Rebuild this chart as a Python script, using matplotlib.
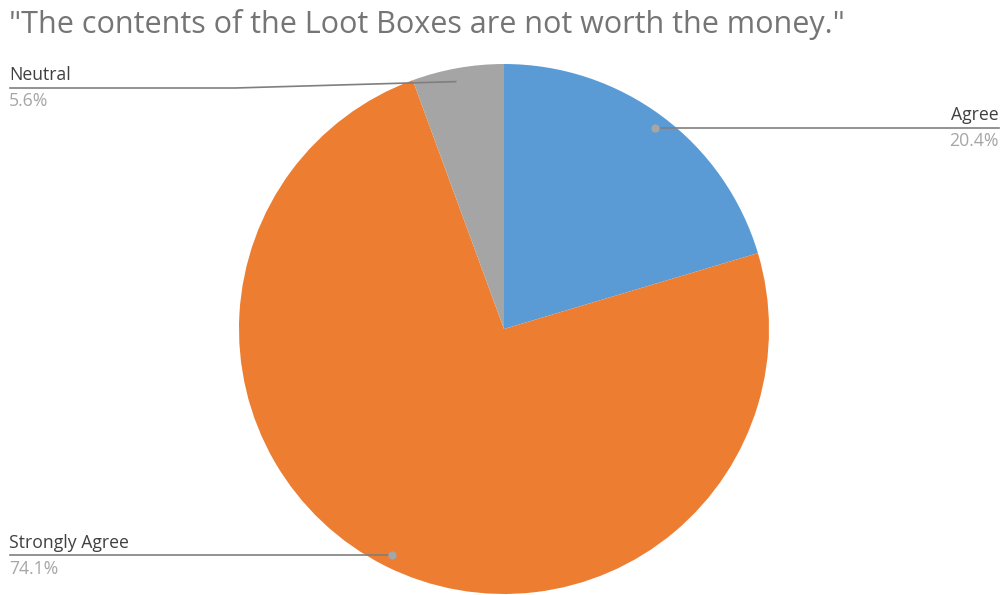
import matplotlib
matplotlib.use("Agg")
from matplotlib import pyplot as plt

# survey answers
labels = ["Agree", "Strongly Agree", "Neutral"]
shares = [20.4, 74.1, 5.6]
colors = ["#5B9BD5", "#ED7D31", "#A5A5A5"]
title = '"The contents of the Loot Boxes are not worth the money."'

W, H = 1002, 595
plt.rcParams['font.family'] = ['Open Sans', 'DejaVu Sans']

fig = plt.figure(figsize=(W / 100, H / 100), dpi=100)
ax = fig.add_axes([0, 0, 1, 1])
ax.set_xlim(0, W)
ax.set_ylim(0, H)
ax.set_aspect('equal')
ax.axis('off')

cx, cy, r = 504, H - 329, 265
ax.pie(shares, colors=colors, startangle=90, counterclock=False,
       center=(cx, cy), radius=r, wedgeprops=dict(linewidth=0))
ax.set_xlim(0, W)
ax.set_ylim(0, H)

fig.text(9 / W, 1 - 25 / H, title, fontsize=22, color="#757575", va='center', ha='left')

line_col = "#7F7F7F"
lab_col = "#404040"
pct_col = "#A6A6A6"
fs = 12.7

def py(y):
    return H - y

# Agree (right side)
ax.plot([655, 999], [py(127.5), py(127.5)], color=line_col, lw=1.2)
ax.plot(655, py(127.5), 'o', color="#A6A6A6", ms=5)
ax.text(999, py(115), labels[0], ha='right', va='center', fontsize=fs, color=lab_col)
ax.text(999, py(141), "%.1f%%" % shares[0], ha='right', va='center', fontsize=fs, color=pct_col)

# Strongly Agree (bottom left)
ax.plot([10, 392], [py(555), py(555)], color=line_col, lw=1.2)
ax.plot(392, py(555), 'o', color="#A6A6A6", ms=5)
ax.text(9, py(543), labels[1], ha='left', va='center', fontsize=fs, color=lab_col)
ax.text(9, py(569), "%.1f%%" % shares[1], ha='left', va='center', fontsize=fs, color=pct_col)

# Neutral (top left)
ax.plot([10, 235, 460], [py(88), py(88), py(81.5)], color=line_col, lw=1.2)
ax.plot(460, py(81.5), 'o', color="#A6A6A6", ms=5)
ax.text(9, py(75), labels[2], ha='left', va='center', fontsize=fs, color=lab_col)
ax.text(9, py(101), "%.1f%%" % shares[2], ha='left', va='center', fontsize=fs, color=pct_col)

fig.savefig("out.png", dpi=100)
